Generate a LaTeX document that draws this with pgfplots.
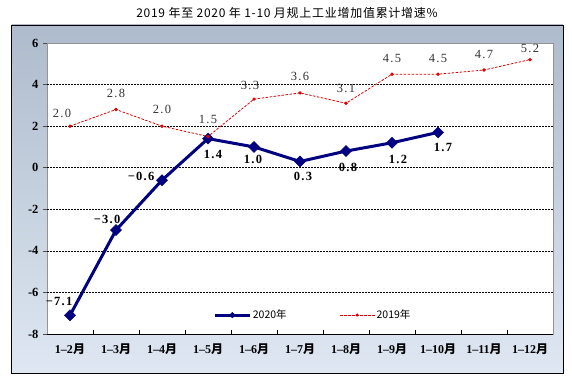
\documentclass[border=0pt]{standalone}
\usepackage{pgfplots}
\pgfplotsset{compat=1.18}
\usepackage{pgfplotstable}
\usepackage{fontspec}
\setmainfont{Liberation Serif}
\newfontfamily\cjk{Noto Sans CJK SC}
\newfontfamily\cjkt[LetterSpace=6]{Noto Sans CJK SC}
\newfontfamily\lbl[LetterSpace=10]{Liberation Serif}
\definecolor{navy}{RGB}{0,0,128}
\definecolor{redline}{RGB}{225,0,0}
\definecolor{boxtop}{RGB}{174,187,204}
\definecolor{boxbot}{RGB}{222,231,242}

\pgfplotstableread{
x y dx dy lab
0 -7.1 -11 14 −7.1
1 -3.0 -9 11 −3.0
2 -0.6 -21 4 −0.6
3 1.4 5 -16 1.4
4 1.0 -1 -13 1.0
5 0.3 3 -15 0.3
6 0.8 2 -16 0.8
7 1.2 6 -17 1.2
8 1.7 5 -15 1.7
}\tA

\pgfplotstableread{
x y dx dy lab
0 2.0 -8 13 2.0
1 2.8 0 16 2.8
2 2.0 0 17 2.0
3 1.5 0 17 1.5
4 3.3 -4 14 3.3
5 3.6 0 16 3.6
6 3.1 0 15 3.1
7 4.5 0 16 4.5
8 4.5 0 16 4.5
9 4.7 0 16 4.7
10 5.2 0 11 5.2
}\tB

\begin{document}
\begin{tikzpicture}[x=1pt,y=1pt]
\path[fill=white] (0,0) rectangle (572,381);
\shade[top color=boxtop, bottom color=boxbot] (11.5,8) rectangle (563,356);
\draw[black, line width=0.9pt] (11.5,8) rectangle (563,356);
\node[font=\cjkt\fontsize{12}{13}\selectfont, inner sep=0pt] at (287,368) {2019 年至 2020 年 1-10 月规上工业增加值累计增速\%};
\begin{axis}[
  at={(47pt,47pt)}, anchor=south west,
  scale only axis, width=506pt, height=291pt,
  xmin=-0.5, xmax=10.5, ymin=-8, ymax=6,
  clip=false,
  axis background/.style={fill=white},
  axis line style={draw=gray!85, line width=0.8pt},
  tick align=inside,
  xtick pos=bottom, ytick pos=left,
  xtick={0,...,10},
  xticklabels={1–2{\cjk 月},1–3{\cjk 月},1–4{\cjk 月},1–5{\cjk 月},1–6{\cjk 月},1–7{\cjk 月},1–8{\cjk 月},1–9{\cjk 月},1–10{\cjk 月},1–11{\cjk 月},1–12{\cjk 月}},
  minor xtick={0.5,1.5,...,9.5},
  major x tick style={draw=none},
  minor tick length=4pt,
  major tick length=4pt,
  minor x tick style={black, line width=0.6pt},
  ytick={-8,-6,...,6},
  yticklabel={\bfseries\fontsize{12.5}{13}\selectfont\pgfmathprintnumber[assume math mode=true]{\tick}},
  y tick style={xshift=-4pt, black!70, line width=0.6pt},
  extra y ticks={-6,-4,-2,0,2,4},
  extra y tick labels={},
  extra y tick style={grid=major, major grid style={black, line width=0.6pt, dash pattern=on 2pt off 1pt}, major tick length=0pt},
  x tick label style={font=\bfseries\fontsize{12}{13}\selectfont, yshift=-6pt},
  y tick label style={xshift=-5pt, text=black},
  legend style={at={(0.525,0.065)}, anchor=center, legend columns=2, draw=none, fill=none,
    font=\cjk\fontsize{10.5}{12}\selectfont, inner sep=0pt,
    nodes={inner sep=1pt},
    /tikz/every even column/.append style={column sep=52pt}},
  legend image code/.code={\draw[mark repeat=2, mark phase=2, #1] plot coordinates {(0pt,0pt) (17pt,0pt) (35pt,0pt)};},
]
\addplot[navy, line width=3pt, mark=square*, mark size=3.9pt, mark options={rotate=45, solid, line width=0.5pt}, forget plot]
  table[x=x, y=y] {\tA};
\addlegendimage{navy, line width=3pt, mark=square*, mark size=2pt, mark options={rotate=45, solid, line width=0.4pt}}
\addlegendentry{2020年}
\addplot[redline, line width=0.8pt, dash pattern=on 2.5pt off 1.5pt, mark=*, mark size=1.3pt, mark options={solid}, forget plot]
  table[x=x, y=y] {\tB};
\addlegendimage{redline, line width=0.9pt, dash pattern=on 2.5pt off 1.5pt, mark=*, mark size=1.1pt, mark options={solid}}
\addlegendentry{2019年}
\draw[black, line width=0.8pt] (rel axis cs:0,0) -- (rel axis cs:1,0);
\addplot[draw=none, forget plot, point meta=explicit symbolic,
  visualization depends on={\thisrow{dx} \as \dx},
  visualization depends on={\thisrow{dy} \as \dy},
  nodes near coords,
  nodes near coords style={anchor=center, xshift=\dx, yshift=\dy, inner sep=0pt,
    font=\lbl\bfseries\fontsize{12.5}{14}\selectfont, text=black}]
  table[x=x, y=y, meta=lab] {\tA};
\addplot[draw=none, forget plot, point meta=explicit symbolic,
  visualization depends on={\thisrow{dx} \as \dx},
  visualization depends on={\thisrow{dy} \as \dy},
  nodes near coords,
  nodes near coords style={anchor=center, xshift=\dx, yshift=\dy, inner sep=0pt,
    font=\lbl\fontsize{12.5}{14}\selectfont, text=black!80}]
  table[x=x, y=y, meta=lab] {\tB};
\end{axis}
\end{tikzpicture}
\end{document}
